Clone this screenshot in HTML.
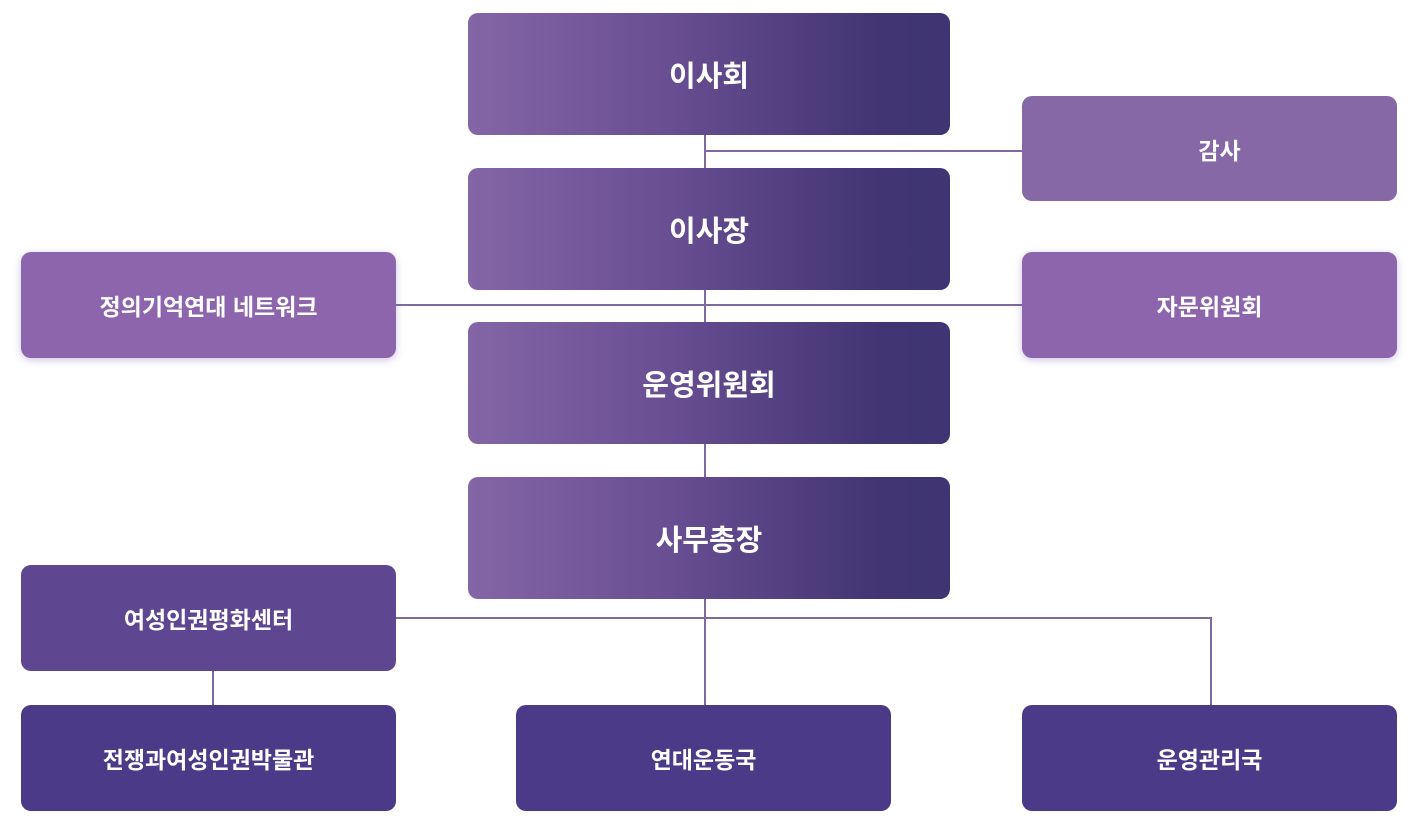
<!DOCTYPE html>
<html><head><meta charset="utf-8"><style>
body{margin:0;width:1415px;height:834px;background:#fff;position:relative;overflow:hidden;font-family:"Liberation Sans","Noto Sans CJK KR",sans-serif}
.b{position:absolute;display:flex;align-items:center;justify-content:center;color:#fff;font-weight:bold;border-radius:10px}
.m{left:468px;width:482px;height:122px;font-size:29px;background:linear-gradient(90deg,#8466a6 0%,#6a4f93 40%,#423574 85%,#3f3572 100%)}
.s{width:375px;height:106px;font-size:23px}
.l{position:absolute;background:#7d6a9e}
</style></head><body>
<div class="l" style="left:704px;top:135px;width:2px;height:342px"></div>
<div class="l" style="left:705px;top:150px;width:317px;height:2px"></div>
<div class="l" style="left:396px;top:304px;width:626px;height:2px"></div>
<div class="l" style="left:396px;top:617px;width:816px;height:2px"></div>
<div class="l" style="left:704px;top:599px;width:2px;height:106px"></div>
<div class="l" style="left:1210px;top:618px;width:2px;height:87px"></div>
<div class="l" style="left:212px;top:671px;width:2px;height:34px"></div>
<div class="b m" style="top:13px">이사회</div>
<div class="b m" style="top:168px">이사장</div>
<div class="b m" style="top:322px">운영위원회</div>
<div class="b m" style="top:477px">사무총장</div>
<div class="b s" style="left:1022px;top:96px;height:105px;background:#8568a5;padding-left:20px;box-sizing:border-box">감사</div>
<div class="b s" style="left:21px;top:252px;background:#8c65ad;box-shadow:0 2px 8px rgba(120,90,170,.35)">정의기억연대 네트워크</div>
<div class="b s" style="left:1022px;top:252px;background:#8c65ad;box-shadow:0 2px 8px rgba(120,90,170,.35)">자문위원회</div>
<div class="b s" style="left:21px;top:565px;background:#5f4690">여성인권평화센터</div>
<div class="b s" style="left:21px;top:705px;background:#4b3a87">전쟁과여성인권박물관</div>
<div class="b s" style="left:516px;top:705px;background:#4b3a87">연대운동국</div>
<div class="b s" style="left:1022px;top:705px;background:#4b3a87">운영관리국</div>
</body></html>
